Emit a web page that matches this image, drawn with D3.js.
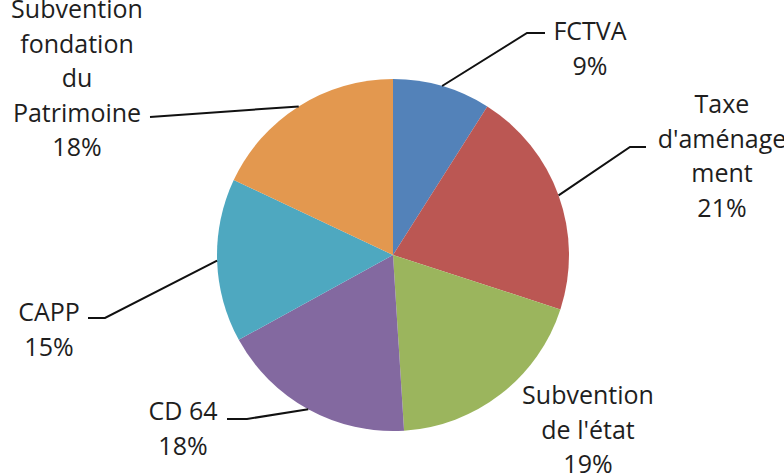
<!DOCTYPE html>
<html lang="fr">
<head>
<meta charset="utf-8">
<script src="https://d3js.org/d3.v7.min.js"></script>
<style type="text/css">
body {
	margin: 0;
	background-color: #fff;
}
.label text {
	font: 25px "Open Sans", sans-serif;
	fill: #1e1e1e;
	text-anchor: middle;
}
.leader {
	fill: none;
	stroke: #111;
	stroke-width: 2;
}
</style>
</head>
<body>
<div class="chart"></div>
<script type="text/javascript">
// slices, clockwise from 12 o'clock
var categories = ["FCTVA", "Taxe d'aménagement", "Subvention de l'état", "CD 64", "CAPP", "Subvention fondation du Patrimoine"];
var values = [9, 21, 19, 18, 15, 18];
var percentLabels = ["9%", "21%", "19%", "18%", "15%", "18%"];
// how each label is broken in lines (as in the original)
var labelLines = [
	["FCTVA"],
	["Taxe", "d'aménage", "ment"],
	["Subvention", "de l'état"],
	["CD 64"],
	["CAPP"],
	["Subvention", "fondation", "du", "Patrimoine"]
];
var colors = ["#5382b9", "#bb5753", "#9bb55d", "#8369a0", "#4ea8c0", "#e3984f"];

var width = 784, height = 475;
var cx = 393, cy = 255, radius = 176;

// label placement: text centre x, first baseline y, elbow of leader line (null = no line)
var labelPos = [
	{x: 590, y: 40, elbow: [527, 33], end: [545, 33]},
	{x: 722, y: 113, elbow: [630, 147], end: [646, 147]},
	{x: 588, y: 404, elbow: null},
	{x: 183, y: 420, elbow: [247, 419], end: [227, 419]},
	{x: 49, y: 321, elbow: [105, 318], end: [88, 318]},
	{x: 77, y: 18, elbow: [298, 108], end: [150, 117], direct: true}
];
var lineHeight = 34.5;

var svg = d3.select(".chart")
	.append("svg")
	.attr("width", width)
	.attr("height", height);

var pie = d3.pie().sort(null).value(function(d) { return d; });
var arcs = pie(values);
var arc = d3.arc().innerRadius(0).outerRadius(radius);

var g = svg.append("g")
	.attr("transform", "translate(" + cx + "," + cy + ")");

g.selectAll("path")
	.data(arcs)
	.enter()
	.append("path")
	.attr("d", arc)
	.style("fill", function(d, i) { return colors[i]; });

// leader lines from the middle of the slice edge
var edge = d3.arc().innerRadius(radius).outerRadius(radius);
arcs.forEach(function(d, i) {
	var p = labelPos[i];
	if (!p.elbow) return;
	var c = edge.centroid(d);
	var start = [c[0] + cx, c[1] + cy];
	var pts = p.direct ? [start, p.end] : [start, p.elbow, p.end];
	svg.append("path")
		.attr("class", "leader")
		.attr("d", d3.line()(pts));
});

var labels = svg.append("g").attr("class", "label");
categories.forEach(function(c, i) {
	var p = labelPos[i];
	var lines = labelLines[i].concat([percentLabels[i]]);
	var t = labels.append("text");
	lines.forEach(function(l, k) {
		t.append("tspan")
			.attr("x", p.x)
			.attr("y", p.y + k * lineHeight)
			.text(l);
	});
});
</script>
</body>
</html>
